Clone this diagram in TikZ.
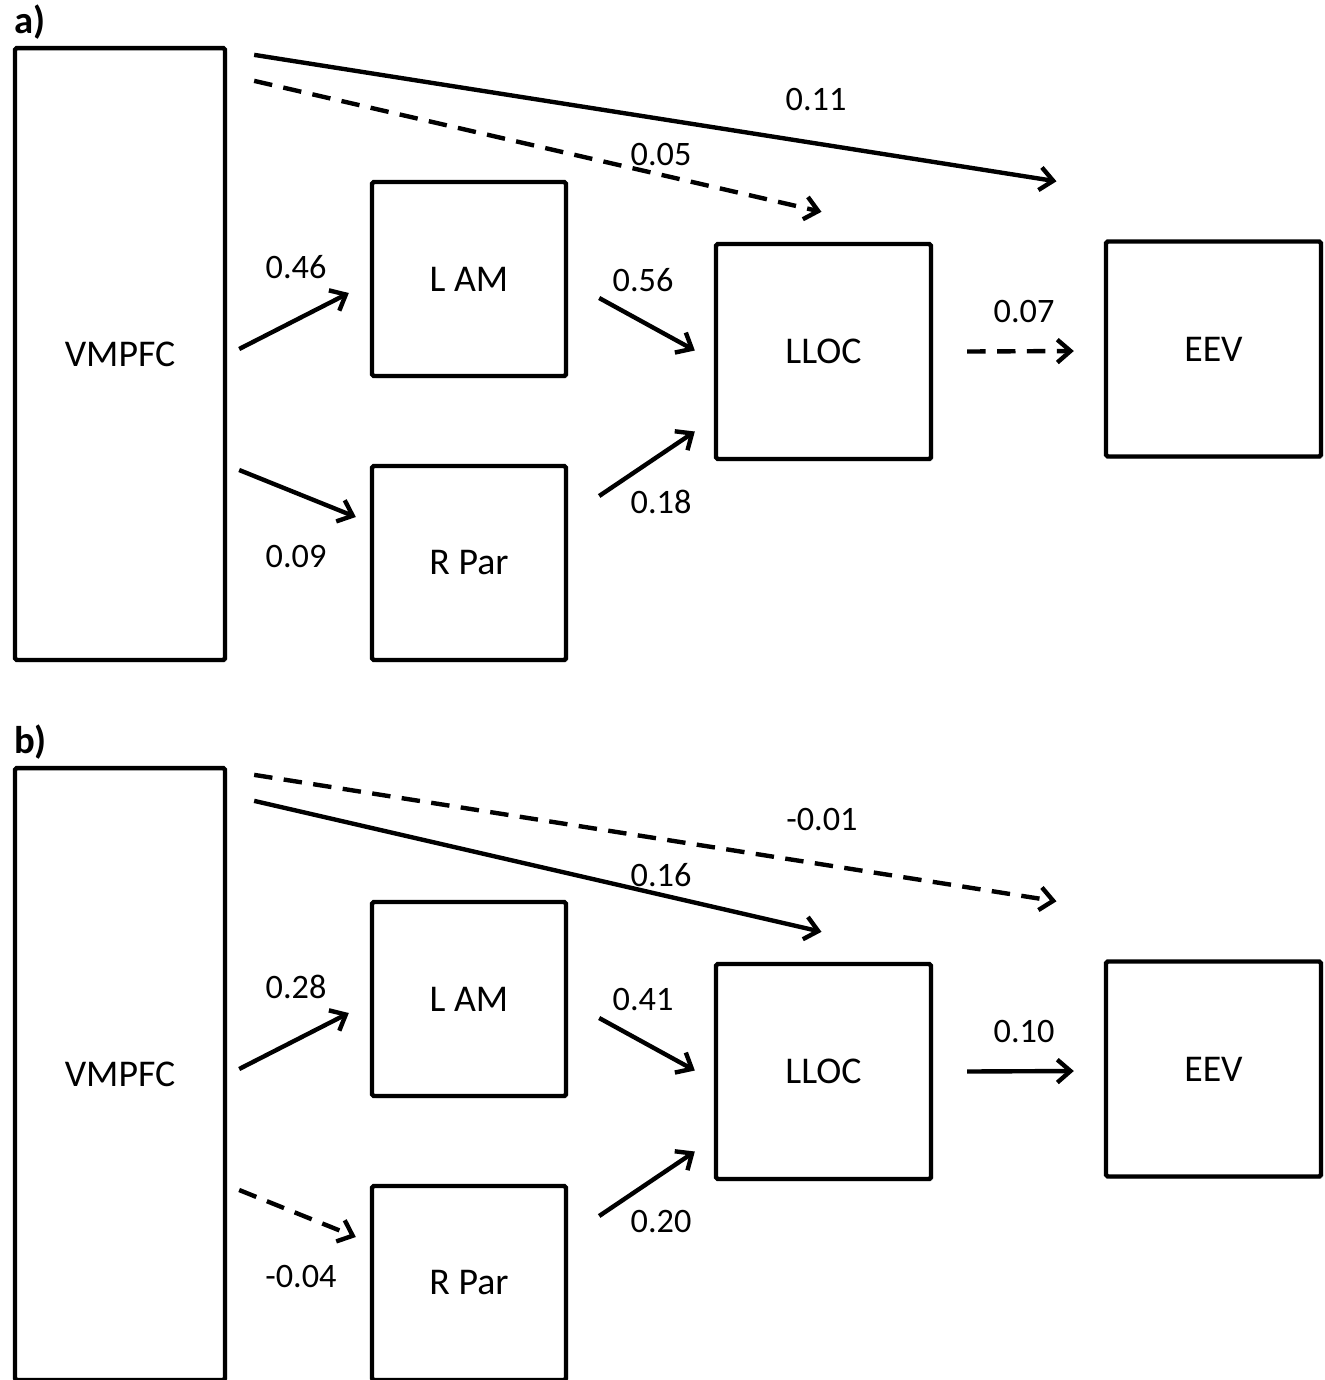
\documentclass[tikz,border=0pt]{standalone}
\usepackage{fontspec}
\setmainfont{Carlito}
\usetikzlibrary{arrows.meta,calc,shadows}

\begin{document}
\begin{tikzpicture}[x=0.02cm,y=-0.02cm,line width=2.5pt,>={Straight Barb[length=7.5pt,width=13pt]}]
  \tikzstyle{region}=[draw=black,fill=white,inner sep=0pt,rounded corners=1pt,
    drop shadow={shadow xshift=1.2pt,shadow yshift=-1.2pt,opacity=0.25,fill=black},
    font=\fontsize{21.5}{25}\selectfont]
  \tikzstyle{coef}=[font=\fontsize{19.5}{23}\selectfont]
  \tikzstyle{tag}=[anchor=base west,font=\fontsize{22}{26}\selectfont\bfseries]
  \tikzstyle{link}=[->]
  \tikzstyle{weak}=[->,dash pattern=on 10.5pt off 6.5pt]
\useasboundingbox (0,0) rectangle (1325,1380);

% panel a
\node[tag] (taga) at (6,33) {a)};
\node[region,minimum width=4.2cm,minimum height=12.24cm] (vma) at (120,354) {VMPFC};
\node[region,minimum size=3.88cm] (lama) at (469,279) {L AM};
\node[region,minimum size=3.88cm] (rpara) at (469,563) {R Par};
\node[region,minimum size=4.3cm] (lloca) at (823.5,351.5) {LLOC};
\node[region,minimum size=4.3cm] (eeva) at (1213.5,349) {EEV};
\draw[link] ($(vma.north east)+(27,9)$) -- ($(eeva.north)+(-157,-58)$);
\draw[weak] ($(vma.north east)+(27,35)$) -- ($(lloca.north)+(-2,-30)$);
\draw[link] ($(vma.east)+(12,-5)$) -- ($(lama.west)+(-21,14)$);
\draw[link] ($(vma.east)+(12,116)$) -- ($(rpara.west)+(-14,-46)$);
\draw[link] ($(lama.east)+(31,19)$) -- ($(lloca.west)+(-19,-1)$);
\draw[link] ($(rpara.east)+(31,-67)$) -- ($(lloca.west)+(-19,80)$);
\draw[weak] ($(lloca.east)+(34,0)$) -- ($(eeva.west)+(-30,2)$);
\node[coef] (ca1) at (816,100) {0.11};
\node[coef] (ca2) at (661,155) {0.05};
\node[coef] (ca3) at (296,267) {0.46};
\node[coef] (ca4) at (296,557) {0.09};
\node[coef] (ca5) at (643,280) {0.56};
\node[coef] (ca6) at (661,502) {0.18};
\node[coef] (ca7) at (1024,312) {0.07};

% panel b
\node[tag] (tagb) at (6,753) {b)};
\node[region,minimum width=4.2cm,minimum height=12.24cm] (vmb) at (120,1074) {VMPFC};
\node[region,minimum size=3.88cm] (lamb) at (469,999) {L AM};
\node[region,minimum size=3.88cm] (rparb) at (469,1283) {R Par};
\node[region,minimum size=4.3cm] (llocb) at (823.5,1071.5) {LLOC};
\node[region,minimum size=4.3cm] (eevb) at (1213.5,1069) {EEV};
\draw[weak] ($(vmb.north east)+(27,9)$) -- ($(eevb.north)+(-157,-58)$);
\draw[link] ($(vmb.north east)+(27,35)$) -- ($(llocb.north)+(-2,-30)$);
\draw[link] ($(vmb.east)+(12,-5)$) -- ($(lamb.west)+(-21,14)$);
\draw[weak] ($(vmb.east)+(12,116)$) -- ($(rparb.west)+(-14,-46)$);
\draw[link] ($(lamb.east)+(31,19)$) -- ($(llocb.west)+(-19,-1)$);
\draw[link] ($(rparb.east)+(31,-67)$) -- ($(llocb.west)+(-19,80)$);
\draw[link] ($(llocb.east)+(34,0)$) -- ($(eevb.west)+(-30,2)$);
\node[coef] (cb1) at (822,820) {-0.01};
\node[coef] (cb2) at (661,875) {0.16};
\node[coef] (cb3) at (296,987) {0.28};
\node[coef] (cb4) at (301,1277) {-0.04};
\node[coef] (cb5) at (643,1000) {0.41};
\node[coef] (cb6) at (661,1222) {0.20};
\node[coef] (cb7) at (1024,1032) {0.10};
\end{tikzpicture}
\end{document}
